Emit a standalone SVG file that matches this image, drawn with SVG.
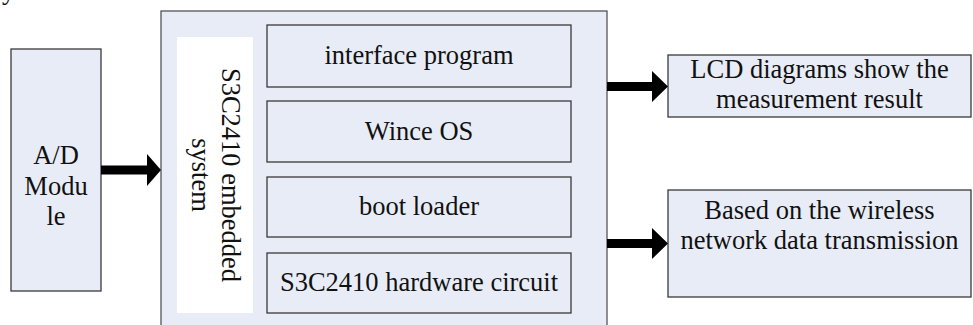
<svg xmlns="http://www.w3.org/2000/svg" width="973" height="325" viewBox="0 0 973 325">
<style>
.box{fill:#E8ECF6;stroke:#3a3a3a;stroke-width:1.3}
.outer{fill:#E8ECF6;stroke:#555;stroke-width:1.3}
.t{font-family:'Liberation Serif','Times New Roman',Tinos,'DejaVu Serif','Noto Serif',serif;font-size:26.5px;fill:#111;text-anchor:middle}
.cap{font-family:'Liberation Serif','Times New Roman',Tinos,'DejaVu Serif','Noto Serif',serif;font-size:26.5px;fill:#111}
.arrow{fill:#000;stroke:none}
</style>
<rect width="973" height="325" fill="#fff"/>
<text class="cap" x="2" y="-1">ystem.</text>
<g id="ad-module">
<rect class="box" x="11" y="49" width="90" height="242"/>
<text class="t" x="56" y="164">A/D</text>
<text class="t" x="56" y="195">Modu</text>
<text class="t" x="56" y="225">le</text>
</g>
<g id="embedded-system">
<rect class="outer" x="161" y="11" width="446" height="330"/>
<rect x="177" y="37" width="76" height="276" fill="#fff"/>
<text class="t" transform="translate(222,175) rotate(90)"><tspan x="0" y="0">S3C2410 embedded</tspan><tspan x="0" y="30">system</tspan></text>
</g>
<g id="interface-program">
<rect class="box" x="267" y="25" width="304" height="62"/>
<text class="t" x="419" y="64">interface program</text>
</g>
<g id="wince-os">
<rect class="box" x="267" y="101" width="304" height="61"/>
<text class="t" x="419" y="140">Wince OS</text>
</g>
<g id="boot-loader">
<rect class="box" x="267" y="177" width="304" height="60"/>
<text class="t" x="419" y="215">boot loader</text>
</g>
<g id="hardware-circuit">
<rect class="box" x="267" y="253" width="304" height="60"/>
<text class="t" x="419" y="291">S3C2410 hardware circuit</text>
</g>
<g id="lcd">
<rect class="box" x="668" y="55" width="303" height="62"/>
<text class="t" x="819.5" y="78">LCD diagrams show the</text>
<text class="t" x="819.5" y="108">measurement result</text>
</g>
<g id="wireless">
<rect class="box" x="668" y="190" width="303" height="107"/>
<text class="t" x="819.5" y="219">Based on the wireless</text>
<text class="t" x="819.5" y="249">network data transmission</text>
</g>
<g id="connectors">
<polygon class="arrow" points="101,165.5 147,165.5 147,154 161,170 147,186 147,174.5 101,174.5"/>
<polygon class="arrow" points="607,82 652,82 652,71 668,86.5 652,102 652,91 607,91"/>
<polygon class="arrow" points="607,239 652,239 652,228 668,243.5 652,259 652,248 607,248"/>
</g>
</svg>
